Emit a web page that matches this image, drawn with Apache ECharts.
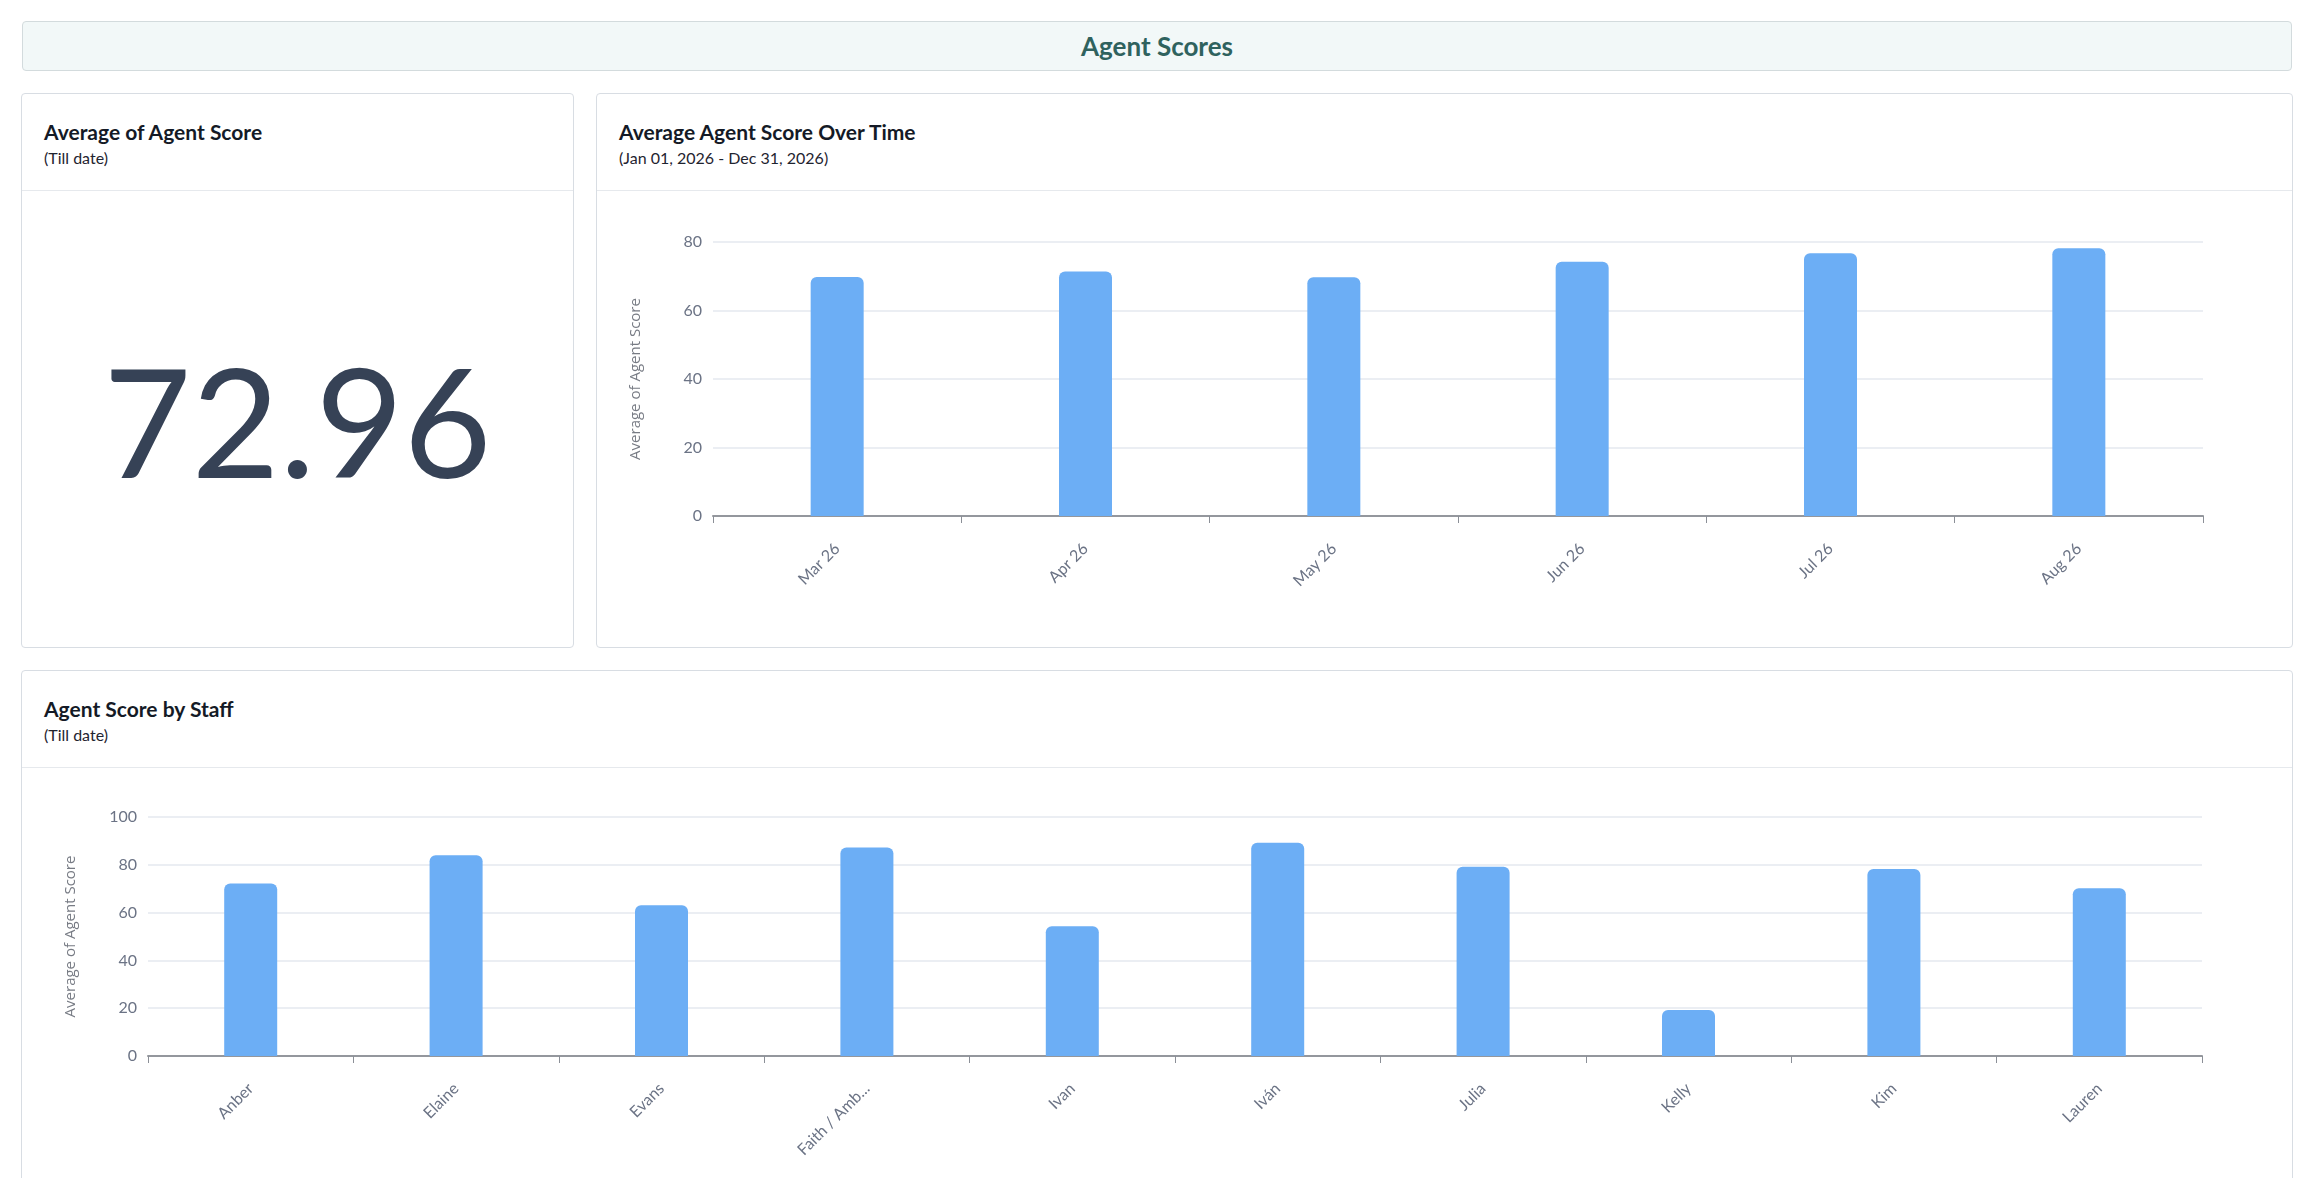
<!DOCTYPE html>
<html>
<head>
<meta charset="utf-8">
<title>Agent Scores</title>
<script src="https://cdn.jsdelivr.net/npm/echarts@6/dist/echarts.min.js"></script>
<style>
    html, body { margin: 0; padding: 0; background: #fff; overflow: hidden; }
    body { width: 2318px; height: 1178px; position: relative; font-family: Lato, "Noto Sans", sans-serif; }
    .pageHead {
        position: absolute; left: 22px; top: 21px; width: 2268px; height: 48px;
        background: #f2f8f8; border: 1px solid #d3dbdd; border-radius: 4px;
        text-align: center; line-height: 48px;
        font-size: 26px; font-weight: 700; color: #2f625e;
    }
    .card {
        position: absolute; background: #fff; border: 1px solid #d8dde3; border-radius: 4px;
        box-sizing: border-box; overflow: hidden;
    }
    .card .head { height: 97px; border-bottom: 1px solid #e6e9ed; box-sizing: border-box; padding: 24px 0 0 22px; }
    .card .title { font-size: 21px; font-weight: 700; color: #141a26; line-height: 28px; }
    .card .sub { font-size: 16px; color: #1f2430; line-height: 20px; margin-top: 2px; }
    .bigNum {
        position: absolute; left: 0; right: 0; top: 97px; bottom: 0;
        display: flex; align-items: center; justify-content: center;
        font-size: 152px; font-weight: 400; color: #364256;
    }
    .chartBox { position: absolute; }
</style>
</head>
<body>
<div class="pageHead">Agent Scores</div>

<div class="card" style="left:21px;top:93px;width:553px;height:555px;">
    <div class="head">
        <div class="title">Average of Agent Score</div>
        <div class="sub">(Till date)</div>
    </div>
    <div class="bigNum" id="avgScore"></div>
</div>

<div class="card" style="left:596px;top:93px;width:1697px;height:555px;">
    <div class="head">
        <div class="title">Average Agent Score Over Time</div>
        <div class="sub">(Jan 01, 2026 - Dec 31, 2026)</div>
    </div>
</div>
<div class="chartBox timeChart" style="left:596px;top:192px;width:1696px;height:455px;"></div>

<div class="card" style="left:21px;top:670px;width:2272px;height:600px;">
    <div class="head">
        <div class="title">Agent Score by Staff</div>
        <div class="sub">(Till date)</div>
    </div>
</div>
<div class="chartBox staffChart" style="left:21px;top:768px;width:2271px;height:410px;"></div>

<script>
// 数据
let avgScore = 72.96;

let months = ['Mar 26', 'Apr 26', 'May 26', 'Jun 26', 'Jul 26', 'Aug 26'];
let monthScores = [69.8, 71.4, 69.7, 74.2, 76.7, 78.2];
let monthTicks = [0, 20, 40, 60, 80];

let staff = ['Anber', 'Elaine', 'Evans', 'Faith / Amb...', 'Ivan', 'Iván', 'Julia', 'Kelly', 'Kim', 'Lauren'];
let staffScores = [72.2, 84.0, 63.1, 87.2, 54.3, 89.2, 79.2, 19.2, 78.2, 70.2];
let staffTicks = [0, 20, 40, 60, 80, 100];

document.getElementById('avgScore').textContent = avgScore.toFixed(2);

// 公共的坐标轴样式
function barOption(cats, vals, ticks, grid) {
    return {
        animation: false,
        grid: grid,
        xAxis: {
            type: 'category',
            data: cats,
            axisLine: { lineStyle: { color: '#94979d', width: 2 } },
            axisTick: { show: true, length: 7, lineStyle: { color: '#8b8f97', width: 1 } },
            axisLabel: {
                rotate: 45,
                margin: 30,
                color: '#6b7385',
                fontFamily: 'Lato',
                fontSize: 16
            }
        },
        yAxis: {
            type: 'value',
            min: ticks[0],
            max: ticks[ticks.length - 1],
            interval: ticks[1] - ticks[0],
            name: 'Average of Agent Score',
            nameLocation: 'middle',
            nameGap: 70,
            nameTextStyle: { color: '#777b84', fontFamily: 'Open Sans', fontSize: 15 },
            axisLabel: { color: '#6b7385', fontFamily: 'Lato', fontSize: 16, margin: 11 },
            splitLine: { lineStyle: { color: '#e5e8ef', width: 1.5 } }
        },
        series: [
            {
                type: 'bar',
                data: vals,
                barWidth: 53,
                itemStyle: {
                    color: '#6caef5',
                    borderRadius: [6, 6, 0, 0]
                }
            }
        ]
    };
}

(function () {
    let myChart = echarts.init(document.getElementsByClassName('timeChart')[0]);
    myChart.setOption(barOption(months, monthScores, monthTicks, { left: 117, right: 89, top: 50, bottom: 131 }));
    window.addEventListener('resize', function () {
        myChart.resize()
    })
})();

(function () {
    let myChart = echarts.init(document.getElementsByClassName('staffChart')[0]);
    myChart.setOption(barOption(staff, staffScores, staffTicks, { left: 127, right: 90, top: 49, bottom: 122 }));
    window.addEventListener('resize', function () {
        myChart.resize()
    })
})();
</script>
</body>
</html>
